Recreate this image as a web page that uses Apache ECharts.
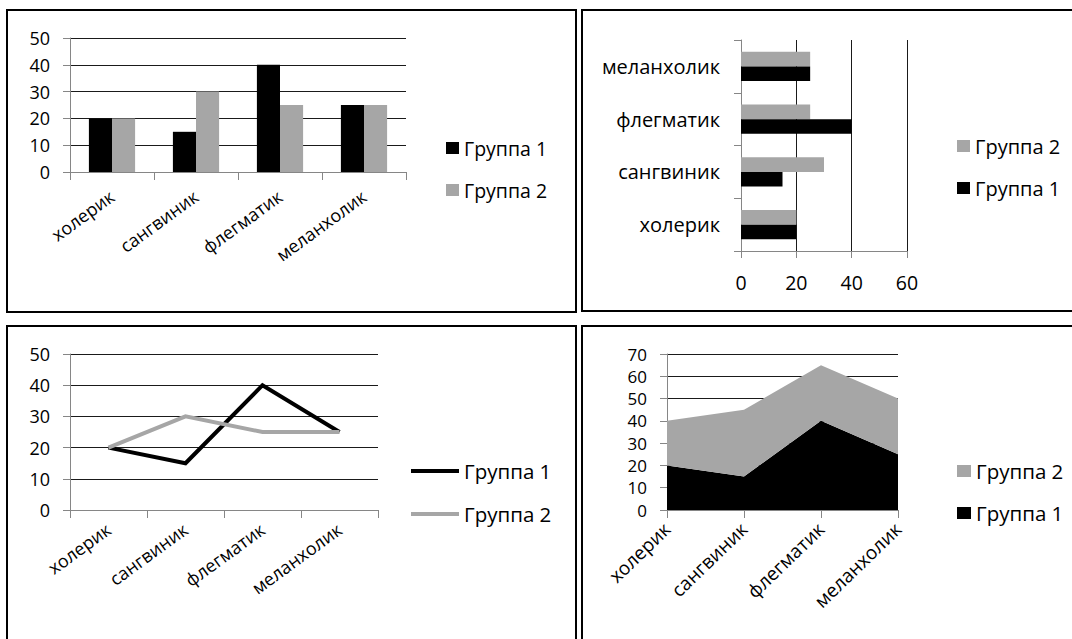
<!DOCTYPE html>
<html style="overflow:hidden"><head><meta charset="utf-8">
<script src="https://cdn.jsdelivr.net/npm/echarts@6/dist/echarts.min.js"></script>
<style>
html,body{margin:0;padding:0;background:#fff;width:1072px;height:639px;overflow:hidden;position:relative;}
.pane{position:absolute;}
.frame{position:absolute;box-sizing:border-box;border:2px solid #000;pointer-events:none;}
</style></head><body>
<div class="frame" style="left:6px;top:9px;width:571px;height:304px"></div>
<div class="frame" style="left:581px;top:9px;width:494px;height:303px"></div>
<div class="frame" style="left:6px;top:325px;width:571px;height:320px"></div>
<div class="frame" style="left:581px;top:325px;width:494px;height:320px"></div>
<script>
// ---- data ----
var categories = ['холерик', 'сангвиник', 'флегматик', 'меланхолик'];
var seriesNames = ['Группа 1', 'Группа 2'];
var group1 = [20, 15, 40, 25];
var group2 = [20, 30, 25, 25];
var barYMax = 50, barXMax = 60, lineYMax = 50, areaYMax = 70;
var barYStep = 10, barXStep = 20, lineYStep = 10, areaYStep = 10;

var BLACK = '#000000', GRAY = '#a6a6a6', AXIS = '#868686', GRID = '#1a1a1a';
var FONT = '"Open Sans", sans-serif';

function makePane(L, T, W, H) {
  var d = document.createElement('div');
  d.className = 'pane';
  d.style.left = L + 'px'; d.style.top = T + 'px';
  d.style.width = W + 'px'; d.style.height = H + 'px';
  document.body.insertBefore(d, document.body.firstChild);
  return echarts.init(d, null, {renderer: 'svg'});
}
function valAxis(max, step, fs, margin) {
  return {
    type: 'value', min: 0, max: max, interval: step,
    axisLine: {show: true, lineStyle: {color: AXIS, width: 1}},
    axisTick: {show: true, length: 7, lineStyle: {color: AXIS}},
    splitLine: {show: true, lineStyle: {color: GRID, width: 1}},
    axisLabel: {color: '#000', fontFamily: FONT, fontSize: fs, margin: margin}
  };
}
function catAxis(gap, fs, rot, margin, tickLen) {
  return {
    type: 'category', data: categories, boundaryGap: gap,
    axisLine: {show: true, lineStyle: {color: AXIS, width: 1}},
    axisTick: {show: true, length: tickLen, lineStyle: {color: AXIS}},
    splitLine: {show: false},
    axisLabel: {color: '#000', fontFamily: FONT, fontSize: fs, rotate: rot, margin: margin, interval: 0}
  };
}
function legend(left, top, gap, data, iw, ih, fs) {
  return {
    orient: 'vertical', left: left, top: top, itemGap: gap,
    itemWidth: iw, itemHeight: ih, icon: 'rect', selectedMode: false,
    data: data,
    textStyle: {color: '#000', fontFamily: FONT, fontSize: fs, lineHeight: 22}
  };
}

// ---- Panel A: column chart ----
(function () {
  var L = 0, T = 0;
  var c = makePane(L, T, 579, 318);
  c.setOption({
    animation: false,
    grid: {left: 70 - L, width: 336, top: 38 - T, height: 134},
    xAxis: catAxis(true, 18, 36, 22, 8),
    yAxis: valAxis(barYMax, barYStep, 18, 20),
    legend: legend(441 - L, 143 - T - 11, 20, seriesNames, 13, 12, 19.5),
    series: [
      {name: seriesNames[0], type: 'bar', data: group1, barGap: '0%', barCategoryGap: '45%', itemStyle: {color: BLACK}},
      {name: seriesNames[1], type: 'bar', data: group2, barGap: '0%', barCategoryGap: '45%', itemStyle: {color: GRAY}}
    ]
  });
})();

// ---- Panel B: horizontal bar chart ----
(function () {
  var L = 579, T = 0;
  var c = makePane(L, T, 493, 318);
  c.setOption({
    animation: false,
    grid: {left: 741 - L, width: 166, top: 40 - T, height: 211},
    xAxis: valAxis(barXMax, barXStep, 19.5, 21),
    yAxis: catAxis(true, 20, 0, 21, 7),
    legend: legend(952 - L, 141 - T - 11, 20, [seriesNames[1], seriesNames[0]], 13, 12, 20),
    series: [
      {name: seriesNames[1], type: 'bar', data: group2, barGap: '0%', barCategoryGap: '45%', itemStyle: {color: GRAY}},
      {name: seriesNames[0], type: 'bar', data: group1, barGap: '0%', barCategoryGap: '45%', itemStyle: {color: BLACK}}
    ]
  });
})();

// ---- Panel C: line chart ----
(function () {
  var L = 0, T = 318;
  var c = makePane(L, T, 579, 321);
  c.setOption({
    animation: false,
    grid: {left: 70 - L, width: 308, top: 354 - T, height: 156},
    xAxis: catAxis(true, 18, 36, 17, 8),
    yAxis: valAxis(lineYMax, lineYStep, 18, 20),
    legend: legend(406 - L, 466 - T - 11, 21, seriesNames, 48, 4, 20.5),
    series: [
      {name: seriesNames[0], type: 'line', data: group1, symbol: 'none', itemStyle: {color: BLACK},
       lineStyle: {color: BLACK, width: 4, join: 'miter', cap: 'butt'}},
      {name: seriesNames[1], type: 'line', data: group2, symbol: 'none', itemStyle: {color: GRAY},
       lineStyle: {color: GRAY, width: 4, join: 'miter', cap: 'butt'}}
    ]
  });
})();

// ---- Panel D: stacked area chart ----
(function () {
  var L = 579, T = 318;
  var c = makePane(L, T, 493, 321);
  c.setOption({
    animation: false,
    grid: {left: 667 - L, width: 231, top: 354 - T, height: 156},
    xAxis: catAxis(false, 19, 44, 16, 8),
    yAxis: valAxis(areaYMax, areaYStep, 17, 20),
    legend: legend(952 - L, 466 - T - 11, 20, [seriesNames[1], seriesNames[0]], 14, 12, 20.5),
    series: [
      {name: seriesNames[0], type: 'line', stack: 'total', data: group1, symbol: 'none',
       lineStyle: {width: 0}, itemStyle: {color: BLACK}, areaStyle: {color: BLACK, opacity: 1}},
      {name: seriesNames[1], type: 'line', stack: 'total', data: group2, symbol: 'none',
       lineStyle: {width: 0}, itemStyle: {color: GRAY}, areaStyle: {color: GRAY, opacity: 1}}
    ]
  });
})();
</script>
</body></html>
